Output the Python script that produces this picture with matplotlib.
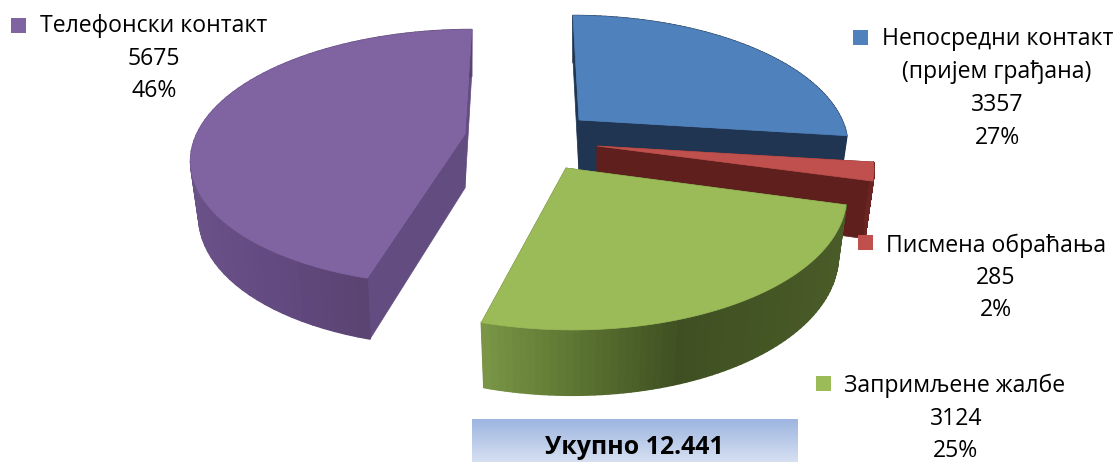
import numpy as np
import matplotlib
matplotlib.use("Agg")
import matplotlib.pyplot as plt
from matplotlib.collections import PolyCollection
from matplotlib.colors import to_rgb

plt.rcParams['font.family'] = ['Open Sans', 'DejaVu Sans']

categories = ["Непосредни контакт\n(пријем грађана)", "Писмена обраћања", "Запримљене жалбе", "Телефонски контакт"]
values = [3357, 285, 3124, 5675]
percent_labels = ["27%", "2%", "25%", "46%"]
total_label = "Укупно 12.441"

top_colors = ["#4F81BD", "#C0504D", "#9BBB59", "#8064A2"]
wall_colors = ["#1F3551", "#5E1F1D", "#3F4F22", "#634C80"]
# outer wall shading stops: (screen x, colour)
wall_stops = [
    [(570, "#1F3551"), (850, "#1F3551")],
    [(590, "#5E1F1D"), (880, "#6A2422")],
    [(481, "#7A9646"), (570, "#5E7733"), (680, "#3F4F22"), (850, "#4A5C28")],
    [(190, "#6A5288"), (280, "#62497F"), (370, "#5A4370")],
]
apex = [(579, 120), (597, 146), (566, 168), (465, 134)]
shear = [0.058, 0.0, 0.04, -0.065]
rx_scale = [0.956, 0.99, 1.0, 0.975]
ry_scale = [0.98, 1.0, 1.05, 0.98]
depth_scale = [1.0, 1.03, 1.07, 1.0]
R, RY, K = 275.0, 126.0, 0.183

fig = plt.figure(figsize=(11.16, 4.62), dpi=100)
ax = fig.add_axes([0, 0, 1, 1])
ax.set_xlim(0, 1116)
ax.set_ylim(462, 0)
ax.axis("off")


def project(theta, r, i, bottom=False):
    x = r * np.sin(theta)
    v = -r * np.cos(theta)
    w = 1 - K * v
    sx = R * rx_scale[i] * x / w
    sy = RY * ry_scale[i] * v / w
    sx = sx + shear[i] * sy
    if bottom:
        sx = sx * 0.97
        sy = sy + 54 * depth_scale[i] * (1 + 0.13 * v)
    return np.column_stack([apex[i][0] + sx, apex[i][1] + sy])


def shade(stops, x):
    xs = [s[0] for s in stops]
    rgb = np.array([to_rgb(s[1]) for s in stops])
    return [np.interp(x, xs, rgb[:, c]) for c in range(3)]


fracs = np.array(values) / np.sum(values)
edges = np.concatenate([[0], np.cumsum(fracs)]) * 2 * np.pi

for i in range(len(values)):
    th = np.linspace(edges[i], edges[i + 1], 70)
    top = project(th, 1.0, i)
    bot = project(th, 1.0, i, bottom=True)
    a_top = project(np.array([0.0]), 0.0, i)[0]
    a_bot = project(np.array([0.0]), 0.0, i, bottom=True)[0]
    for k in (0, -1):
        ax.fill([a_top[0], top[k, 0], bot[k, 0], a_bot[0]],
                [a_top[1], top[k, 1], bot[k, 1], a_bot[1]],
                color=wall_colors[i], lw=0.5, zorder=i * 3 + 1)
    quads = [[top[j], top[j + 1], bot[j + 1], bot[j]] for j in range(len(th) - 1)]
    cols = [shade(wall_stops[i], 0.5 * (top[j, 0] + top[j + 1, 0])) for j in range(len(th) - 1)]
    ax.add_collection(PolyCollection(quads, facecolors=cols, edgecolors=cols, linewidths=1.2,
                                     zorder=i * 3 + 2))
    poly = np.vstack([[a_top], top])
    ax.fill(poly[:, 0], poly[:, 1], color=top_colors[i], lw=0.5, zorder=i * 3 + 3)

# total box
grad = np.linspace(0, 1, 64)[:, None]
c0, c1 = np.array(to_rgb("#9DB5E0")), np.array(to_rgb("#D6E0F1"))
img = c0[None, None, :] * (1 - grad[..., None]) + c1[None, None, :] * grad[..., None]
ax.imshow(img, extent=(472, 798, 462, 419), aspect="auto", zorder=20)
ax.set_xlim(0, 1116)
ax.set_ylim(462, 0)
ax.text(634, 448, total_label, ha="center", va="center", fontsize=17.9, fontweight="bold",
        color="black", zorder=21)

# labels
FS = 16.6
layout = [
    dict(sq=(853, 30), cx=997, lines=[39, 72, 105, 138], first=882),
    dict(sq=(858, 235), cx=996, lines=[246, 278, 310], first=886),
    dict(sq=(816, 376), cx=956, lines=[386, 419, 451], first=844),
    dict(sq=(11, 18), cx=154, lines=[26, 59, 91], first=40),
]
for i, l in enumerate(layout):
    ax.fill([l["sq"][0], l["sq"][0] + 15, l["sq"][0] + 15, l["sq"][0]],
            [l["sq"][1], l["sq"][1], l["sq"][1] + 15, l["sq"][1] + 15],
            color=top_colors[i], lw=0, zorder=25)
    name = categories[i].split("\n")
    texts = name + [str(values[i]), percent_labels[i]]
    for n, (t, y) in enumerate(zip(texts, l["lines"])):
        if n == 0:
            ax.text(l["first"], y, t, ha="left", va="center", fontsize=FS, color="black", zorder=25)
        else:
            ax.text(l["cx"], y, t, ha="center", va="center", fontsize=FS, color="black", zorder=25)

fig.savefig("out.png", dpi=100)
